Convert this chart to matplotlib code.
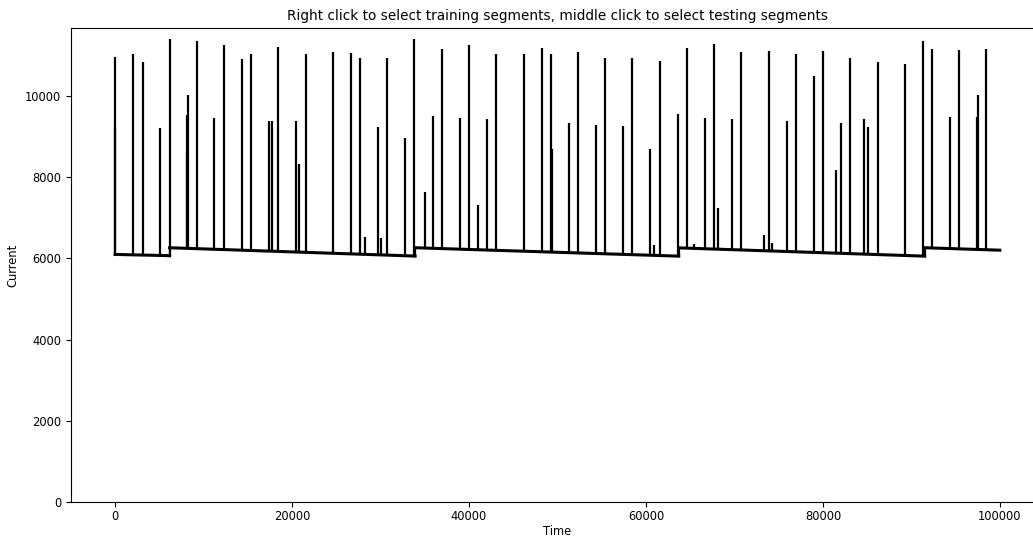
import matplotlib

matplotlib.use("Agg")
import matplotlib.pyplot as plt

# baseline segments: start time, end time, level at start, level at end
seg_start = [0, 6150, 33900, 63700, 91500]
seg_end = [6150, 33900, 63700, 91500, 100000]
seg_level_start = [6100, 6265, 6265, 6262, 6265]
seg_level_end = [6070, 6060, 6058, 6058, 6205]

# spikes: time and peak current
spike_t = [0, 0, 2030, 3090, 5120, 6140, 8100, 8130, 8250, 9230, 11220, 12280,
           14310, 15370, 17400, 17740, 18460, 20490, 20750, 21550, 24600,
           26670, 27690, 28290, 29720, 30060, 30700, 32770, 33790,
           35060, 35900, 36910, 38980, 40000, 40980, 42030, 43090, 46180,
           48210, 49230, 49420, 51260, 52280, 54310, 55370, 57400, 58460,
           60490, 60900, 61540, 63580, 64630, 65420, 66670, 67680, 68100,
           69760, 70770, 73300, 73860, 74200, 75930, 76950, 78980, 80040,
           81470, 82030, 83090, 84630, 85120, 86180, 89230, 91300, 92350,
           94350, 95400, 97400, 97510, 98490]
spike_peak = [10970, 9250, 11030, 10830, 9220, 11420, 8590, 9530, 10020, 11350,
              9450, 11260, 10910, 11050, 9390, 9390, 11200, 9380, 8320, 11030,
              11080, 11060, 10950, 6540, 9250, 6510, 10940, 8970, 11400,
              7640, 9520, 11160, 9470, 11260, 7330, 9430, 11030, 11030,
              11180, 11030, 8700, 9330, 11100, 9300, 10940, 9260, 10940,
              8710, 6330, 10870, 9550, 11190, 6350, 9470, 11280, 7250,
              9440, 11080, 6580, 11120, 6390, 9380, 11030, 10490, 11120,
              8190, 9330, 10940, 9440, 9250, 10840, 10800, 11350, 11150,
              9480, 11130, 9480, 10020, 11170]

fig = plt.figure(figsize=(10.33, 5.38), dpi=100)
ax = fig.add_axes([0.0687, 0.0669, 0.9420, 0.8811])

ax.vlines(spike_t, 6070, spike_peak, color="black", lw=1.6, zorder=2)
for t0, t1, y0, y1 in zip(seg_start, seg_end, seg_level_start, seg_level_end):
    # blank out the spike feet below the baseline
    ax.fill_between([t0, t1], [y0, y1], 5900, color="white", lw=0, zorder=3)
    ax.plot([t0, t1], [y0, y1], color="black", lw=2.2, zorder=4)
# vertical jumps between segments
for i in range(1, len(seg_start)):
    ax.plot([seg_start[i], seg_start[i]], [seg_level_end[i - 1], seg_level_start[i]],
            color="black", lw=1.6, zorder=4)

ax.set_xlim(-5000, 105000)
ax.set_ylim(0, 11680)
ax.set_xticks([0, 20000, 40000, 60000, 80000, 100000])
ax.set_yticks([0, 2000, 4000, 6000, 8000, 10000])
ax.tick_params(labelsize=8.3)
ax.tick_params(axis="x", pad=2.5)
ax.set_xlabel("Time", fontsize=8.3, labelpad=1.5)
ax.set_ylabel("Current", fontsize=8.3)
ax.set_title("Right click to select training segments, middle click to select testing segments",
             fontsize=9.8)

fig.savefig("out.png", dpi=100)
